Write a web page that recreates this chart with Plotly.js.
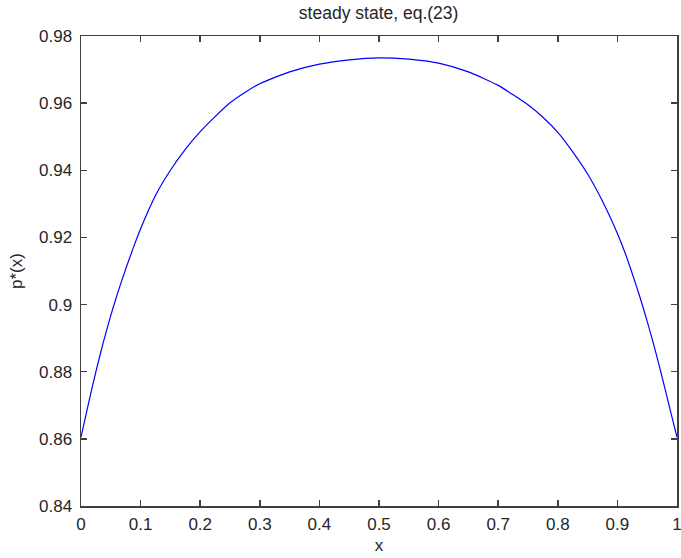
<!DOCTYPE html>
<html>
<head>
<meta charset="utf-8">
<script src="https://cdn.plot.ly/plotly-3.0.1.min.js"></script>
<style>html,body{margin:0;padding:0;background:#fff;}#chart{width:681px;height:558px;}</style>
</head>
<body>
<div id="chart"></div>
<script>
const xValues = [0, 0.0125, 0.025, 0.0375, 0.05, 0.0625, 0.075, 0.0875, 0.1, 0.125, 0.15, 0.175, 0.2, 0.225, 0.25, 0.275, 0.3, 0.35, 0.4, 0.45, 0.5, 0.55, 0.6, 0.65, 0.7, 0.725, 0.75, 0.775, 0.8, 0.825, 0.85, 0.875, 0.9, 0.9125, 0.925, 0.9375, 0.95, 0.9625, 0.975, 0.9875, 1];
const pValues = [0.8605, 0.8705, 0.8800, 0.8888, 0.8968, 0.9040, 0.9106, 0.9168, 0.9226, 0.9325, 0.9400, 0.9462, 0.9515, 0.9560, 0.9601, 0.9632, 0.9658, 0.9693, 0.9716, 0.9729, 0.9735, 0.9731, 0.9719, 0.9693, 0.9653, 0.9625, 0.9595, 0.9558, 0.9513, 0.9455, 0.9389, 0.9308, 0.9212, 0.9156, 0.9092, 0.9024, 0.8950, 0.8870, 0.8784, 0.8694, 0.8605];
const xTickVals = [0, 0.1, 0.2, 0.3, 0.4, 0.5, 0.6, 0.7, 0.8, 0.9, 1];
const xTickText = ["0", "0.1", "0.2", "0.3", "0.4", "0.5", "0.6", "0.7", "0.8", "0.9", "1"];
const yTickVals = [0.84, 0.86, 0.88, 0.9, 0.92, 0.94, 0.96, 0.98];
const yTickText = ["0.84", "0.86", "0.88", "0.9", "0.92", "0.94", "0.96", "0.98"];

const font = {family: "Liberation Sans, Arial, sans-serif", size: 17, color: "#262626"};
const axisCommon = {
  showline: true, linecolor: "#404040", linewidth: 1.5, mirror: "ticks",
  ticks: "inside", ticklen: 6, tickcolor: "#404040", tickwidth: 1.5,
  showgrid: false, zeroline: false, tickfont: font, ticklabeloverflow: "allow"
};
Plotly.newPlot("chart", [{
  x: xValues, y: pValues, type: "scatter", mode: "lines",
  line: {color: "#0000ff", width: 1.2, shape: "spline", smoothing: 0.6}, showlegend: false
}], {
  width: 681, height: 558,
  margin: {l: 81, r: 4, t: 36, b: 52},
  paper_bgcolor: "#fff", plot_bgcolor: "#fff",
  font: font,
  title: {text: "steady state, eq.(23)", font: {family: font.family, size: 17.5, color: font.color}, x: 0.556, xanchor: "center", y: 0.977, yanchor: "middle"},
  xaxis: Object.assign({}, axisCommon, {range: [0, 1], tickvals: xTickVals, ticktext: xTickText, ticklabelstandoff: 2,
    title: {text: "x", font: font, standoff: 6}}),
  yaxis: Object.assign({}, axisCommon, {range: [0.84, 0.98], tickvals: yTickVals, ticktext: yTickText, ticklabelstandoff: 4,
    title: {text: "p*(x)", font: font, standoff: 12}})
}, {displayModeBar: false, staticPlot: true});
</script>
</body>
</html>
